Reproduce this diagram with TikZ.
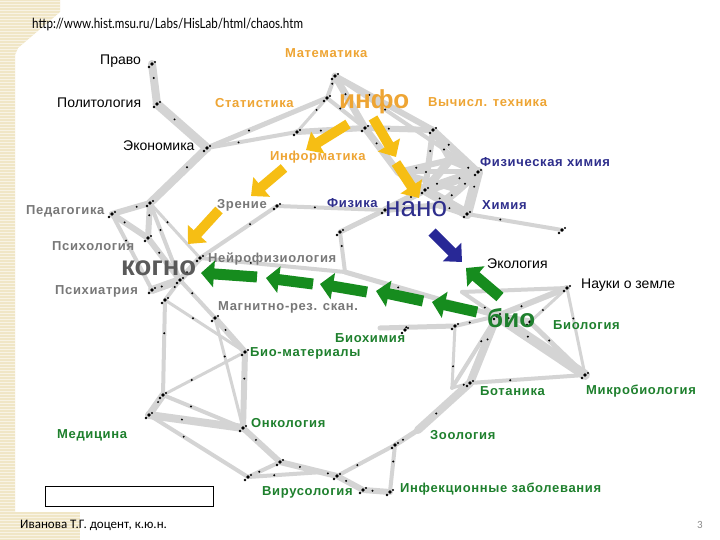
\documentclass[tikz,border=0pt]{standalone}
\usepackage{fontspec}
\setmainfont{Liberation Sans}
\newfontfamily\spaced[LetterSpace=5]{Liberation Sans}
\newfontfamily\urlfont[FakeStretch=0.83]{Lato}
\newfontfamily\footfont{Carlito}
\usetikzlibrary{arrows.meta,calc}
\definecolor{infoorange}{RGB}{238,165,52}
\definecolor{arrowyellow}{RGB}{246,190,20}
\definecolor{nanoblue}{RGB}{46,46,140}
\definecolor{arrowblue}{RGB}{40,40,150}
\definecolor{biogreen}{RGB}{30,128,45}
\definecolor{arrowgreen}{RGB}{22,140,30}
\definecolor{cognogray}{RGB}{120,120,120}
\definecolor{linkgray}{RGB}{212,212,212}
\definecolor{stripbeige}{RGB}{240,230,198}

\begin{document}
\begin{tikzpicture}[x=1pt, y=-1pt, every node/.style={inner sep=0pt, anchor=west}]
\tikzset{
    link/.style={linkgray, line width=#1, line cap=round},
    link/.default=3pt,
    blacklbl/.style={font=\fontsize{14}{16}\selectfont},
    orangelbl/.style={text=infoorange, font=\spaced\bfseries\fontsize{13}{15}\selectfont},
    bluelbl/.style={text=nanoblue, font=\spaced\bfseries\fontsize{13}{15}\selectfont},
    greenlbl/.style={text=biogreen, font=\spaced\bfseries\fontsize{13}{15}\selectfont},
    graylbl/.style={text=cognogray, font=\spaced\bfseries\fontsize{13}{15}\selectfont},
    bigword/.style={font=\bfseries\fontsize{#1}{#1}\selectfont},
    yarrow/.style={arrowyellow, line width=10pt, -{Triangle[length=14pt,width=25pt]}},
    barrow/.style={arrowblue, line width=10pt, -{Triangle[length=14pt,width=25pt]}},
    garrow/.style={arrowgreen, line width=11pt, -{Triangle[length=13pt,width=26pt]}}
}
\useasboundingbox (0,0) rectangle (720,540);
\fill[white] (0,0) rectangle (720,540);

\begin{scope}
\clip (0,0) -- (60,0) -- (60,12) -- (18,48) -- (15,55) -- (15,512) -- (80,512) -- (80,540) -- (0,540) -- cycle;
\fill[stripbeige] (0,0) rectangle (80,540);
\foreach \y in {1,4,...,540}
    \draw[white, line width=0.8pt, opacity=0.55] (0,\y) -- (80,\y);
\end{scope}

\node[font=\urlfont\fontsize{14}{16}\selectfont] (url) at (32,25) {http://www.hist.msu.ru/Labs/HisLab/html/chaos.htm};

\coordinate (pravo) at (152,64);
\coordinate (polit) at (157,104);
\coordinate (econ) at (207,148);
\coordinate (stat) at (327,98);
\coordinate (mat) at (335,76);
\coordinate (stat2) at (297,132);
\coordinate (info) at (365,128);
\coordinate (vych) at (433,130);
\coordinate (fizh) at (478,172);
\coordinate (nano) at (425,190);
\coordinate (nano2) at (398,172);
\coordinate (nano3) at (450,160);
\coordinate (nano4) at (440,205);
\coordinate (nano5) at (458,190);
\coordinate (chim) at (467,214);
\coordinate (fiz) at (385,210);
\coordinate (chimfar) at (562,230);
\coordinate (zren) at (277,206);
\coordinate (ped) at (112,214);
\coordinate (ped2) at (150,203);
\coordinate (psy) at (148,238);
\coordinate (neuro) at (200,258);
\coordinate (kogno) at (180,280);
\coordinate (psyh) at (152,290);
\coordinate (magn) at (215,318);
\coordinate (magn2) at (165,300);
\coordinate (biomat) at (245,352);
\coordinate (medup) at (163,395);
\coordinate (med) at (149,415);
\coordinate (onk) at (243,428);
\coordinate (vir1) at (280,462);
\coordinate (vir2) at (248,477);
\coordinate (vir3) at (323,472);
\coordinate (vir) at (337,476);
\coordinate (inf1) at (363,490);
\coordinate (inf) at (390,492);
\coordinate (zoo1) at (395,445);
\coordinate (zoo2) at (418,430);
\coordinate (bot) at (470,383);
\coordinate (bioh3) at (452,388);
\coordinate (bioh) at (405,330);
\coordinate (bioh2) at (455,326);
\coordinate (bioh0) at (380,328);
\coordinate (bio) at (497,316);
\coordinate (nauki) at (567,288);
\coordinate (eco) at (462,292);
\coordinate (micro) at (585,375);
\coordinate (biol) at (530,322);
\coordinate (nanol) at (340,232);
\coordinate (mid) at (345,272);

\foreach \a/\b/\w in {pravo/polit/8pt, polit/econ/9pt, econ/stat/5pt, econ/stat2/4pt, econ/ped2/8pt,
    ped2/ped/6pt, ped/psy/6pt, ped/psyh/4pt, ped2/psy/6pt, ped2/kogno/4pt, ped2/neuro/3pt,
    psy/kogno/6pt, psyh/kogno/8pt, kogno/neuro/6pt, zren/fiz/4pt, zren/neuro/4pt, neuro/mid/4pt,
    mid/bio/5pt, nanol/mid/4pt, fiz/nanol/5pt, nano/nanol/4pt, kogno/magn/4pt, kogno/magn2/4pt,
    magn2/medup/4pt, magn/biomat/6pt, magn2/biomat/3pt, medup/biomat/3pt, medup/med/7pt,
    magn/onk/3pt, biomat/onk/6pt, med/onk/8pt, medup/onk/4pt, med/vir2/4pt, onk/vir1/6pt,
    vir1/vir/6pt, vir2/vir1/4pt, vir2/vir3/4pt, vir3/vir/4pt, vir/inf1/6pt, inf1/inf/6pt, vir/zoo1/4pt,
    zoo1/inf/4pt, zoo1/zoo2/5pt, zoo2/bot/8pt, bot/bioh3/3pt, bioh3/bioh2/3pt, bioh0/bioh2/5pt,
    bioh2/bio/4pt, bio/nauki/6pt, bio/micro/10pt, bio/bot/8pt, bot/micro/4pt, nauki/micro/3pt,
    eco/nauki/4pt, bio/eco/4pt, biol/micro/5pt, bio/biol/7pt, biol/nauki/3pt, mat/stat/4pt,
    mat/info/7pt, mat/vych/6pt, mat/fizh/4pt, stat/info/4pt, stat2/info/6pt, info/vych/6pt,
    info/nano2/7pt, nano2/nano/7pt, vych/fizh/7pt, vych/nano/6pt, fizh/nano/10pt, fizh/chim/10pt,
    nano/chim/10pt, nano/fiz/7pt, chim/chimfar/4pt, nano3/nano/8pt, nano3/vych/6pt,
    fizh/nano3/7pt, nano4/chim/7pt, fiz/nano4/6pt, stat/stat2/3pt, nano2/nano3/6pt,
    nano5/nano2/6pt, nano5/fizh/8pt, nano5/nano4/8pt, nano2/fizh/5pt, bio/bioh3/4pt}
{
    \draw[link=\w] (\a) -- (\b);
    \fill ($(\a)!0.35!(\b)$) circle (1.1);
}

\foreach \h in {pravo, polit, econ, stat, mat, stat2, info, vych, fizh, nano, chim, fiz, chimfar,
    zren, ped, ped2, psy, neuro, kogno, psyh, magn, magn2, biomat, medup, med, onk, vir1, vir2,
    vir, inf1, inf, zoo1, bot, bioh, bioh2, bio, nauki, micro, biol, nanol}
{
    \fill (\h) circle (1.8);
    \fill ([shift={(3,-2)}]\h) circle (1.2);
    \fill ([shift={(-3,3)}]\h) circle (1.3);
}

\node[blacklbl] (pravo-l) at (100,61) {Право};
\node[orangelbl] (mat-l) at (285,53) {Математика};
\node[blacklbl] (polit-l) at (57,103) {Политология};
\node[orangelbl] (stat-l) at (215,103) {Статистика};
\node[bigword=26, text=infoorange] (info-l) at (339,102) {инфо};
\node[orangelbl] (vych-l) at (428,102) {Вычисл. техника};
\node[blacklbl] (econ-l) at (123,146) {Экономика};
\node[orangelbl] (inf-l) at (270,157) {Информатика};
\node[bluelbl] (fizh-l) at (480,162) {Физическая химия};
\node[graylbl] (ped-l) at (26,211) {Педагогика};
\node[graylbl] (zren-l) at (217,205) {Зрение};
\node[bluelbl] (fiz-l) at (327,203) {Физика};
\node[text=nanoblue, font=\fontsize{28}{28}\selectfont] (nano-l) at (385,209) {нано};
\node[bluelbl] (chim-l) at (482,205) {Химия};
\node[graylbl] (psy-l) at (52,246) {Психология};
\node[graylbl] (neuro-l) at (208,259) {Нейрофизиология};
\node[bigword=27.5, text=cognogray!75!black] (kogno-l) at (121,268) {когно};
\node[blacklbl] (eco-l) at (487,264) {Экология};
\node[blacklbl] (nauki-l) at (581,285) {Науки о земле};
\node[graylbl] (psyh-l) at (55,291) {Психиатрия};
\node[graylbl] (magn-l) at (218,307) {Магнитно-рез. скан.};
\node[bigword=26, text=biogreen] (bio-l) at (487,318) {био};
\node[greenlbl] (biol-l) at (553,325) {Биология};
\node[greenlbl] (bioh-l) at (335,338) {Биохимия};
\node[greenlbl] (biomat-l) at (250,353) {Био-материалы};
\node[greenlbl] (bot-l) at (480,391) {Ботаника};
\node[greenlbl] (micro-l) at (586,391) {Микробиология};
\node[greenlbl] (onk-l) at (251,423) {Онкология};
\node[greenlbl] (med-l) at (57,435) {Медицина};
\node[greenlbl] (zoo-l) at (430,435) {Зоология};
\node[greenlbl] (vir-l) at (262,492) {Вирусология};
\node[greenlbl] (inf-l2) at (400,489) {Инфекционные заболевания};

\coordinate (ya1s) at (348,124);  \coordinate (ya1e) at (306,150);
\coordinate (ya2s) at (373,118);  \coordinate (ya2e) at (396,157);
\coordinate (ya3s) at (396,163);  \coordinate (ya3e) at (419,198);
\coordinate (ya4s) at (284,168);  \coordinate (ya4e) at (251,196);
\coordinate (ya5s) at (219,210);  \coordinate (ya5e) at (188,244);
\coordinate (bas) at (432,232);   \coordinate (bae) at (462,262);
\coordinate (ga1s) at (257,277);  \coordinate (ga1e) at (201,273);
\coordinate (ga2s) at (313,284);  \coordinate (ga2e) at (266,278);
\coordinate (ga3s) at (367,292);  \coordinate (ga3e) at (320,284);
\coordinate (ga4s) at (423,301);  \coordinate (ga4e) at (376,291);
\coordinate (ga5s) at (477,312);  \coordinate (ga5e) at (432,302);
\coordinate (ga6s) at (500,297);  \coordinate (ga6e) at (466,268);

\foreach \i in {1,...,5}
    \draw[yarrow] (ya\i s) -- (ya\i e);
\draw[barrow] (bas) -- (bae);
\foreach \i in {1,...,6}
    \draw[garrow] (ga\i s) -- (ga\i e);

\node[draw, line width=1pt, minimum width=168pt, minimum height=20pt, anchor=north west] (blankbox) at (45,486) {};
\node[font=\footfont\fontsize{13}{15}\selectfont] (author) at (20,525) {Иванова Т.Г. доцент, к.ю.н.};
\node[font=\footfont\fontsize{11}{13}\selectfont, text=black!45] (pagenum) at (697,525) {3};

\end{tikzpicture}
\end{document}
